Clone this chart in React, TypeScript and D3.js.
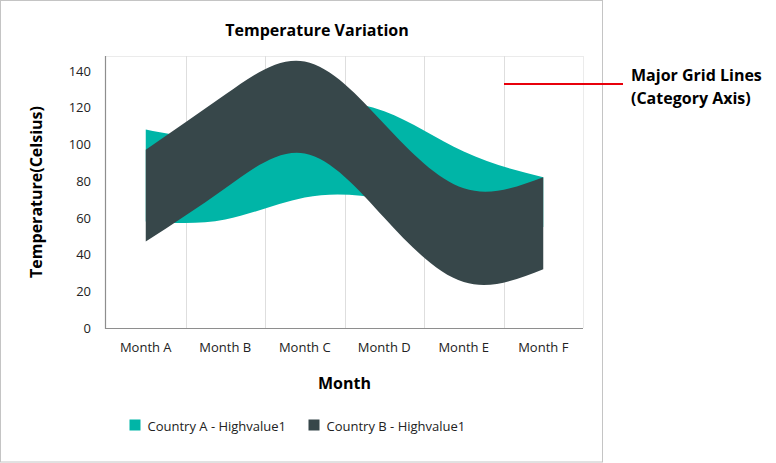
import React from 'react';
import * as d3 from 'd3';

const categories = ['Month A', 'Month B', 'Month C', 'Month D', 'Month E', 'Month F'];
const countryAHigh = [108, 105, 120, 118, 96, 82];
const countryALow = [58, 59, 71, 70, 60, 55];
const countryBHigh = [97, 127, 145, 111, 76, 82];
const countryBLow = [47, 76, 95, 60, 25, 32];
const yTicks = [0, 20, 40, 60, 80, 100, 120, 140];
const seriesNames = ['Country A - Highvalue1', 'Country B - Highvalue1'];
const seriesColors = ['#00B5A7', '#37474A'];
const yMax = 148;

const W = 776;
const H = 463;
const plot = { left: 106, right: 583, top: 56, bottom: 328 };
const FONT = "'Segoe UI', 'Open Sans', sans-serif";

export default function App() {
  const x = d3.scaleBand<string>().domain(categories).range([plot.left, plot.right]).padding(0);
  const y = d3.scaleLinear().domain([0, yMax]).range([plot.bottom, plot.top]);
  const cx = (i: number) => (x(categories[i]) as number) + x.bandwidth() / 2;

  const makeArea = (low: number[]) =>
    d3
      .area<number>()
      .x((_, i) => cx(i))
      .y0((_, i) => y(low[i]))
      .y1((d) => y(d))
      .curve(d3.curveNatural);

  const series = [
    { high: countryAHigh, low: countryALow },
    { high: countryBHigh, low: countryBLow },
  ];

  const legendX = [129.5, 308.5];

  return (
    <div style={{ position: 'fixed', left: 0, top: 0 }}>
      <svg width={W} height={H} style={{ display: 'block', fontFamily: FONT }}>
        <rect x={0} y={0} width={W} height={H} fill="#ffffff" />
        <rect x={0.5} y={0.5} width={602} height={461.5} fill="none" stroke="#c4c4c4" />

        <text x={317} y={30} textAnchor="middle" dominantBaseline="central" fontSize={16} fontWeight={700} fill="#000">
          Temperature Variation
        </text>

        {/* plot border */}
        <line x1={plot.left} x2={plot.right} y1={plot.top + 0.5} y2={plot.top + 0.5} stroke="#ebebeb" />
        <line x1={plot.right + 0.5} x2={plot.right + 0.5} y1={plot.top} y2={plot.bottom} stroke="#ebebeb" />

        {/* major grid lines (category axis) */}
        {categories.slice(1).map((c) => (
          <line
            key={c}
            x1={Math.round(x(c) as number) + 0.5}
            x2={Math.round(x(c) as number) + 0.5}
            y1={plot.top}
            y2={plot.bottom}
            stroke="#dedede"
          />
        ))}

        {series.map((s, i) => (
          <path key={i} d={makeArea(s.low)(s.high) || ''} fill={seriesColors[i]} />
        ))}

        {/* axes */}
        <line x1={plot.left - 0.5} x2={plot.left - 0.5} y1={plot.top} y2={plot.bottom + 1} stroke="#8e8e8e" strokeWidth={1.2} />
        <line x1={plot.left - 1} x2={plot.right} y1={plot.bottom + 0.5} y2={plot.bottom + 0.5} stroke="#8e8e8e" strokeWidth={1.2} />

        {yTicks.map((t) => (
          <text key={t} x={91} y={y(t)} textAnchor="end" dominantBaseline="central" fontSize={13} fill="#222">
            {t}
          </text>
        ))}

        {categories.map((c, i) => (
          <text key={c} x={cx(i)} y={347} textAnchor="middle" dominantBaseline="central" fontSize={13} fill="#222">
            {c}
          </text>
        ))}

        <text x={344.5} y={383} textAnchor="middle" dominantBaseline="central" fontSize={16} fontWeight={700} fill="#000">
          Month
        </text>

        <text
          transform={`translate(36, ${(plot.top + plot.bottom) / 2}) rotate(-90)`}
          textAnchor="middle"
          dominantBaseline="central"
          fontSize={16}
          fontWeight={700}
          fill="#000"
        >
          Temperature(Celsius)
        </text>

        {seriesNames.map((n, i) => (
          <g key={n}>
            <rect x={legendX[i]} y={419.5} width={11} height={11} fill={seriesColors[i]} />
            <text x={legendX[i] + 18} y={425.5} dominantBaseline="central" fontSize={13} fill="#222">
              {n}
            </text>
          </g>
        ))}

        {/* annotation */}
        <line x1={504} x2={623} y1={84} y2={84} stroke="#e8000b" strokeWidth={2} />
        <text x={631} y={75} dominantBaseline="central" fontSize={16} fontWeight={700} fill="#000">
          Major Grid Lines
        </text>
        <text x={631} y={98} dominantBaseline="central" fontSize={16} fontWeight={700} fill="#000">
          (Category Axis)
        </text>
      </svg>
    </div>
  );
}
